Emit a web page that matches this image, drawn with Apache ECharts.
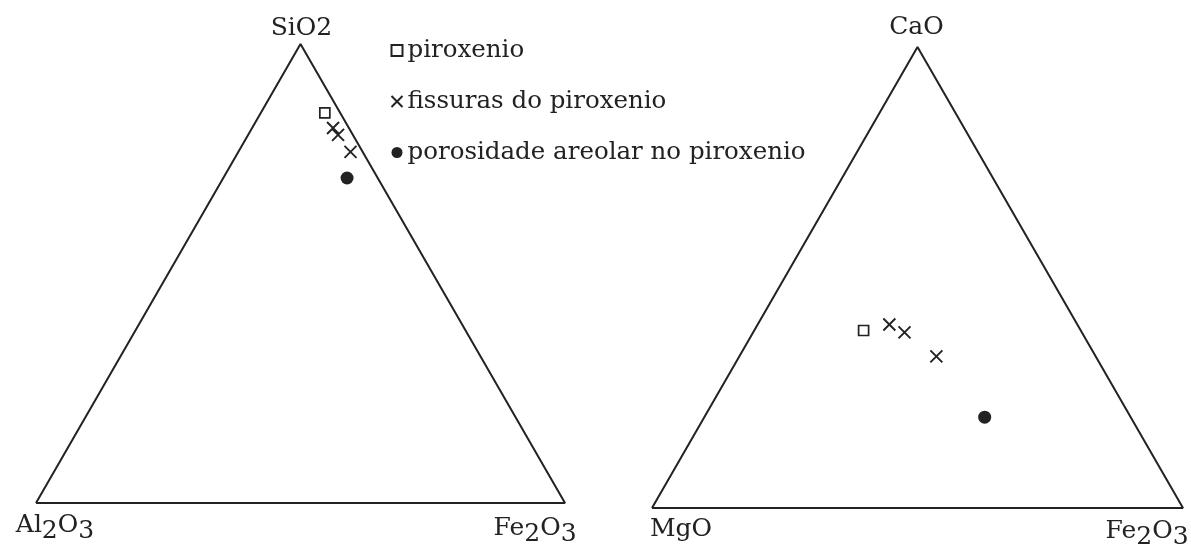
<!DOCTYPE html>
<html>
<head>
<meta charset="utf-8">
<style>
  html, body { margin: 0; padding: 0; background: #fff; }
  #chart { width: 1191px; height: 549px; }
</style>
<script src="https://cdn.jsdelivr.net/npm/echarts@6/dist/echarts.min.js"></script>
</head>
<body>
<div id="chart"></div>
<script>
// Sample groups (legend entries)
const groups = ['piroxenio', 'fissuras do piroxenio', 'porosidade areolar no piroxenio'];

// Diagram 1: SiO2 (top), Al2O3 (left), Fe2O3 (right), in %
const siAlFe_piroxenio  = [[85.0, 2.9, 12.1]];
const siAlFe_fissuras   = [[81.7, 3.0, 15.3], [80.2, 2.8, 17.0], [76.5, 2.3, 21.2]];
const siAlFe_porosidade = [[70.8, 5.8, 23.4]];

// Diagram 2: CaO (top), MgO (left), Fe2O3 (right), in %
const caMgFe_piroxenio  = [[38.5, 40.9, 20.6]];
const caMgFe_fissuras   = [[39.8, 35.4, 24.8], [38.1, 33.4, 28.5], [32.9, 30.0, 37.1]];
const caMgFe_porosidade = [[19.7, 27.5, 52.8]];

// Corner labels: left, right, top (rich-text markup, lowered digits as {s|..})
const cornersSiAlFe = ['{n|Al}{s|2}{n|O}{s|3}', '{n|Fe}{s|2}{n|O}{s|3}', '{c|SiO2}'];
const cornersCaMgFe = ['{c|MgO}', '{n|Fe}{s|2}{n|O}{s|3}', '{c|CaO}'];

// Ternary composition [top, left, right] -> plane coordinates (triangle of base 1, height 1)
function toXY(c) {
  const sum = c[0] + c[1] + c[2];
  const t = c[0] / sum, r = c[2] / sum;
  return [r + t / 2, t];
}
const frame = [[0, 0], [1, 0], [0.5, 1], [0, 0]];
const cornerPts = [[0, 0], [1, 0], [0.5, 1]];

const FONT = 'DejaVu Serif';
const INK = '#222';
const cross = 'path://M0,0L10,10M10,0L0,10';

const rich = {
  n: { fontFamily: FONT, fontSize: 25, color: INK, verticalAlign: 'top', lineHeight: 31 },
  s: { fontFamily: FONT, fontSize: 25, color: INK, verticalAlign: 'bottom', lineHeight: 31 },
  c: { fontFamily: FONT, fontSize: 25, color: INK, lineHeight: 25 }
};

function cornerSeries(idx, labels, offsets) {
  return {
    type: 'scatter', xAxisIndex: idx, yAxisIndex: idx, symbolSize: 0, silent: true,
    itemStyle: { opacity: 1 },
    data: cornerPts.map((p, i) => ({
      value: p,
      label: {
        show: true, position: 'inside', offset: offsets[i],
        formatter: labels[i], rich: rich, align: 'center', verticalAlign: 'middle'
      }
    }))
  };
}

function pointSeries(idx, sets) {
  return [
    { name: groups[0], type: 'scatter', xAxisIndex: idx, yAxisIndex: idx,
      symbol: 'rect', symbolSize: 10,
      itemStyle: { color: '#fff', borderColor: INK, borderWidth: 1.7, opacity: 1 },
      data: sets[0].map(toXY), z: 5 },
    { name: groups[1], type: 'scatter', xAxisIndex: idx, yAxisIndex: idx,
      symbol: cross, symbolSize: 12,
      itemStyle: { color: 'none', borderColor: INK, borderWidth: 1.9, opacity: 1 },
      data: sets[1].map(toXY), z: 5 },
    { name: groups[2], type: 'scatter', xAxisIndex: idx, yAxisIndex: idx,
      symbol: 'circle', symbolSize: 13,
      itemStyle: { color: INK, opacity: 1 },
      data: sets[2].map(toXY), z: 5 }
  ];
}

function frameSeries(idx) {
  return {
    type: 'line', xAxisIndex: idx, yAxisIndex: idx, data: frame,
    symbol: 'none', silent: true,
    lineStyle: { color: INK, width: 2 }
  };
}

const hiddenAxis = (gi) => ({
  type: 'value', gridIndex: gi, min: 0, max: 1, show: false
});

const chart = echarts.init(document.getElementById('chart'), null, { renderer: 'canvas' });
chart.setOption({
  backgroundColor: '#fff',
  animation: false,
  grid: [
    { left: 36, right: 626, top: 44, bottom: 46 },
    { left: 652, right: 8, top: 47, bottom: 41 }
  ],
  xAxis: [hiddenAxis(0), hiddenAxis(1)],
  yAxis: [hiddenAxis(0), hiddenAxis(1)],
  legend: {
    orient: 'vertical', left: 384, top: 33,
    itemWidth: 11, itemHeight: 11, itemGap: 26,
    data: groups, selectedMode: false,
    textStyle: { fontFamily: FONT, fontSize: 24.5, lineHeight: 25, color: INK }
  },
  series: [
    frameSeries(0),
    frameSeries(1),
    cornerSeries(0, cornersSiAlFe, [[19, 25], [-30, 28], [1, -16]]),
    cornerSeries(1, cornersCaMgFe, [[29, 21], [-36, 26], [-1, -20]]),
    ...pointSeries(0, [siAlFe_piroxenio, siAlFe_fissuras, siAlFe_porosidade]),
    ...pointSeries(1, [caMgFe_piroxenio, caMgFe_fissuras, caMgFe_porosidade])
  ]
});
</script>
</body>
</html>
